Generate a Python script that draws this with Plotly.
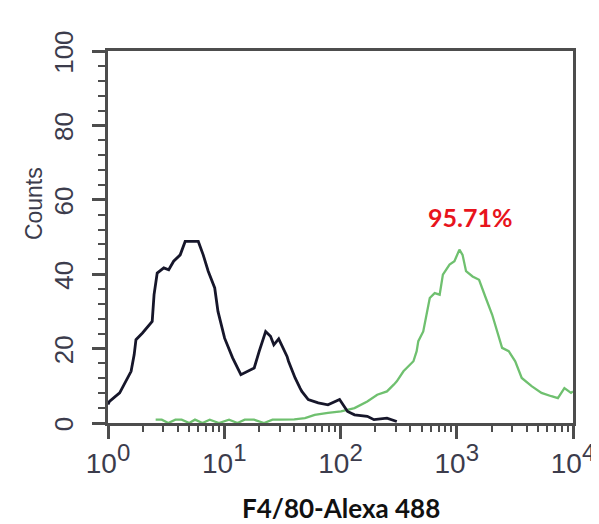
import math
import plotly.graph_objects as go

# Control (black) histogram
ctrl_x = [1.0, 1.03, 1.26, 1.43, 1.58, 1.68, 1.74, 1.98, 2.25, 2.40, 2.49, 2.65, 3.02, 3.33,
          3.67, 4.18, 4.61, 5.98, 6.59, 7.28, 8.28, 8.83, 10.07, 11.8, 13.9, 15.8, 18.1,
          20.0, 22.7, 25.0, 26.7, 29.4, 34.7, 35.7, 39.4, 40.7, 44.9, 46.5, 52.8, 64.3,
          78.0, 98.2, 115, 132, 170, 194, 251, 305]
ctrl_y = [5.0, 5.8, 8.1, 11.2, 13.9, 18.4, 22.4, 24.2, 26.4, 27.3, 34.5, 40.3, 41.7, 41.2,
          43.5, 45.2, 48.8, 48.8, 45.2, 40.8, 36.3, 30.0, 22.8, 17.5, 13.0, 13.9, 14.8,
          19.3, 24.6, 23.3, 21.0, 22.6, 17.9, 16.6, 13.0, 12.1, 9.4, 8.5, 6.3, 5.4,
          4.9, 6.3, 3.1, 2.2, 1.8, 0.9, 1.3, 0.4]

# F4/80-Alexa 488 stained (green) histogram
stain_x = [2.57, 2.9, 3.3, 3.8, 4.3, 5.0, 5.6, 6.5, 7.5, 9.0, 11, 13, 15, 18, 22, 26, 30,
           35, 40, 49.5, 60, 78, 101, 132, 170, 207, 236, 251, 287, 305, 348, 372, 424,
           452, 467, 515, 586, 646, 713, 760, 867, 955, 1054, 1122, 1202, 1368, 1556,
           1778, 2018, 2455, 2799, 3184, 3622, 4406, 5358, 6516, 7413, 8433, 9616, 10000]
stain_y = [0.9, 0.9, 0.0, 0.9, 0.9, 0.0, 0.9, 0.0, 0.9, 0.0, 0.9, 0.0, 0.9, 0.9, 0.0, 0.9, 0.9,
           0.9, 1.0, 1.3, 2.2, 2.7, 3.1, 4.0, 5.8, 7.6, 8.1, 8.5, 10.3, 11.2, 13.9, 14.8, 16.6,
           19.3, 22.0, 24.6, 33.6, 34.9, 34.5, 39.9, 42.6, 43.5, 46.6, 45.2, 40.8, 39.4, 38.5,
           33.6, 29.1, 20.2, 19.3, 16.6, 12.1, 9.9, 8.1, 7.2, 6.7, 9.4, 8.1, 8.5]

x_tickvals = [1, 10, 100, 1000, 10000]
x_exponents = ["0", "1", "2", "3", "4"]
x_minor = [m * d for d in [1, 10, 100, 1000] for m in range(2, 10)]
y_tickvals = [0, 20, 40, 60, 80, 100]

label_pct = "95.71%"
label_x, label_y = 1290, 55.5
x_title = "F4/80-Alexa 488"
y_title = "Counts"

x_ticktext = ["10<sup><span style='font-size:24px'>%s</span></sup>" % e for e in x_exponents]

fig = go.Figure()
fig.add_trace(go.Scatter(x=stain_x, y=stain_y, mode="lines",
                         line=dict(color="#6fc06f", width=2.3), hoverinfo="skip"))
fig.add_trace(go.Scatter(x=ctrl_x, y=ctrl_y, mode="lines",
                         line=dict(color="#16162a", width=2.8), hoverinfo="skip"))

axis_col = "#4d4d4d"
tick_font_col = "#3c3c4c"

fig.update_xaxes(type="log", range=[0, 4], tickmode="array", tickvals=x_tickvals,
                 ticktext=x_ticktext, ticks="outside", ticklen=13, tickwidth=2.5,
                 tickcolor=axis_col, showline=True, linecolor=axis_col, linewidth=3,
                 mirror=True, showgrid=False, zeroline=False,
                 tickfont=dict(family="Liberation Sans, Arial", size=28, color=tick_font_col),
                 minor=dict(tickmode="array", tickvals=x_minor, ticks="outside", ticklen=6,
                            tickwidth=2, tickcolor=axis_col, showgrid=False))
fig.update_yaxes(range=[0, 100], tickmode="array", tickvals=y_tickvals, ticks="outside",
                 ticklen=13, tickwidth=2.5, tickcolor=axis_col, showline=True,
                 linecolor=axis_col, linewidth=3, mirror=True, showgrid=False,
                 zeroline=False, tickangle=-90, ticklabelshift=5, ticklabelstandoff=9,
                 tickfont=dict(family="Liberation Sans, Arial", size=26, color=tick_font_col),
                 minor=dict(dtick=4, ticks="outside", ticklen=7, tickwidth=2,
                            tickcolor=axis_col, showgrid=False))

fig.add_annotation(x=0.5, y=-0.277, xref="paper", yref="paper", text="<b>" + x_title + "</b>",
                   showarrow=False, xanchor="center", yanchor="bottom",
                   font=dict(family="Lato, Open Sans", size=26, color="#111111"))
fig.add_annotation(x=-0.16, y=0.59, xref="paper", yref="paper", text=y_title, textangle=-90,
                   showarrow=False, xanchor="center", yanchor="middle",
                   font=dict(family="Liberation Sans, Arial", size=23, color=tick_font_col))
# annotations on a log axis take log10 positions
fig.add_annotation(x=math.log10(label_x), y=label_y, xref="x", yref="y",
                   text="<b>" + label_pct + "</b>",
                   showarrow=False, xanchor="center", yanchor="middle",
                   font=dict(family="Lato, Open Sans", size=25, color="#e8141c"))

fig.update_layout(width=599, height=524, margin=dict(l=100, r=27, t=43, b=109),
                  paper_bgcolor="white", plot_bgcolor="white", showlegend=False)

fig.write_html("out.html")
